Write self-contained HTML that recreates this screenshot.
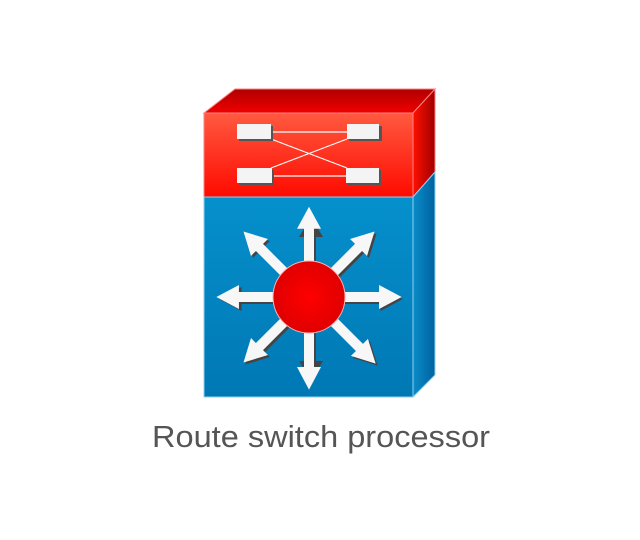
<!DOCTYPE html>
<html><head><style>
html,body{margin:0;padding:0;background:#fff;width:640px;height:540px;overflow:hidden}
</style></head><body>
<svg width="640" height="540" viewBox="0 0 640 540" xmlns="http://www.w3.org/2000/svg">
<defs>
<linearGradient id="rf" x1="0" y1="0" x2="0" y2="1"><stop offset="0" stop-color="#ff5a40"/><stop offset="1" stop-color="#ff0a00"/></linearGradient>
<linearGradient id="rt" x1="0" y1="0" x2="0" y2="1"><stop offset="0" stop-color="#b00000"/><stop offset="1" stop-color="#f00000"/></linearGradient>
<linearGradient id="rs" x1="0" y1="0" x2="1" y2="0"><stop offset="0" stop-color="#ff1000"/><stop offset="1" stop-color="#a00000"/></linearGradient>
<linearGradient id="bf" x1="0" y1="0" x2="0" y2="1"><stop offset="0" stop-color="#0590cc"/><stop offset="1" stop-color="#0078b4"/></linearGradient>
<linearGradient id="bs" x1="0" y1="0" x2="1" y2="0"><stop offset="0" stop-color="#0a8cc8"/><stop offset="1" stop-color="#0062a0"/></linearGradient>
<radialGradient id="c"><stop offset="0" stop-color="#ff0000"/><stop offset="1" stop-color="#e00000"/></radialGradient>
<g id="ar"><polygon points="0,-5 62,-5 62,-12 82,0 62,12 62,5 0,5"/></g>
</defs>
<polygon points="204,113 235,89 435,89 413,113" fill="url(#rt)" stroke="#ff8080" stroke-width="1"/>
<polygon points="413,113 435,89 435,172 413,197" fill="url(#rs)" stroke="#ff8080" stroke-width="1"/>
<polygon points="413,197 435,172 435,375 413,397" fill="url(#bs)" stroke="#8fd0f0" stroke-width="1"/>
<rect x="204" y="113" width="209" height="84" fill="url(#rf)" stroke="#ff8080" stroke-width="1"/>
<rect x="204" y="197" width="209" height="200" fill="url(#bf)" stroke="#8fd0f0" stroke-width="1"/>
<g stroke="#fff" stroke-width="1.2"><line x1="271" y1="132" x2="347" y2="132"/><line x1="271" y1="176" x2="347" y2="176"/><line x1="271" y1="139" x2="347" y2="168"/><line x1="271" y1="168" x2="347" y2="139"/></g>
<g fill="#555"><rect x="239" y="126" width="34" height="15"/><rect x="349" y="126" width="33" height="15"/><rect x="239" y="170" width="35" height="15"/><rect x="348" y="170" width="33" height="15"/></g>
<g fill="#f4f4f4"><rect x="237" y="124" width="34" height="15"/><rect x="347" y="124" width="32" height="15"/><rect x="237" y="168" width="35" height="15"/><rect x="346" y="168" width="33" height="15"/></g>
<g transform="translate(311,299)" fill="#444">
<use href="#ar" transform="rotate(-90)"/><use href="#ar" transform="rotate(90)"/><use href="#ar" transform="rotate(0) scale(1.12,1)"/><use href="#ar" transform="rotate(180) scale(1.12,1)"/>
<use href="#ar" transform="rotate(-45) scale(1.13,1)"/><use href="#ar" transform="rotate(-135) scale(1.13,1)"/><use href="#ar" transform="rotate(45) scale(1.15,1)"/><use href="#ar" transform="rotate(135) scale(1.13,1)"/>
</g>
<g transform="translate(309,297)" fill="#f7f7f7">
<use href="#ar" transform="rotate(-90) scale(1.1,1)"/><use href="#ar" transform="rotate(90) scale(1.13,1)"/><use href="#ar" transform="rotate(0) scale(1.13,1)"/><use href="#ar" transform="rotate(180) scale(1.13,1)"/>
<use href="#ar" transform="rotate(-45) scale(1.13,1)"/><use href="#ar" transform="rotate(-135) scale(1.13,1)"/><use href="#ar" transform="rotate(45) scale(1.15,1)"/><use href="#ar" transform="rotate(135) scale(1.13,1)"/>
</g>
<circle cx="309" cy="297" r="36" fill="url(#c)" stroke="#ffb0b0" stroke-width="1"/>
<text x="152" y="447" textLength="338" lengthAdjust="spacingAndGlyphs" font-family="Liberation Sans, sans-serif" font-size="31" fill="#555">Route switch processor</text>
</svg>
</body></html>
